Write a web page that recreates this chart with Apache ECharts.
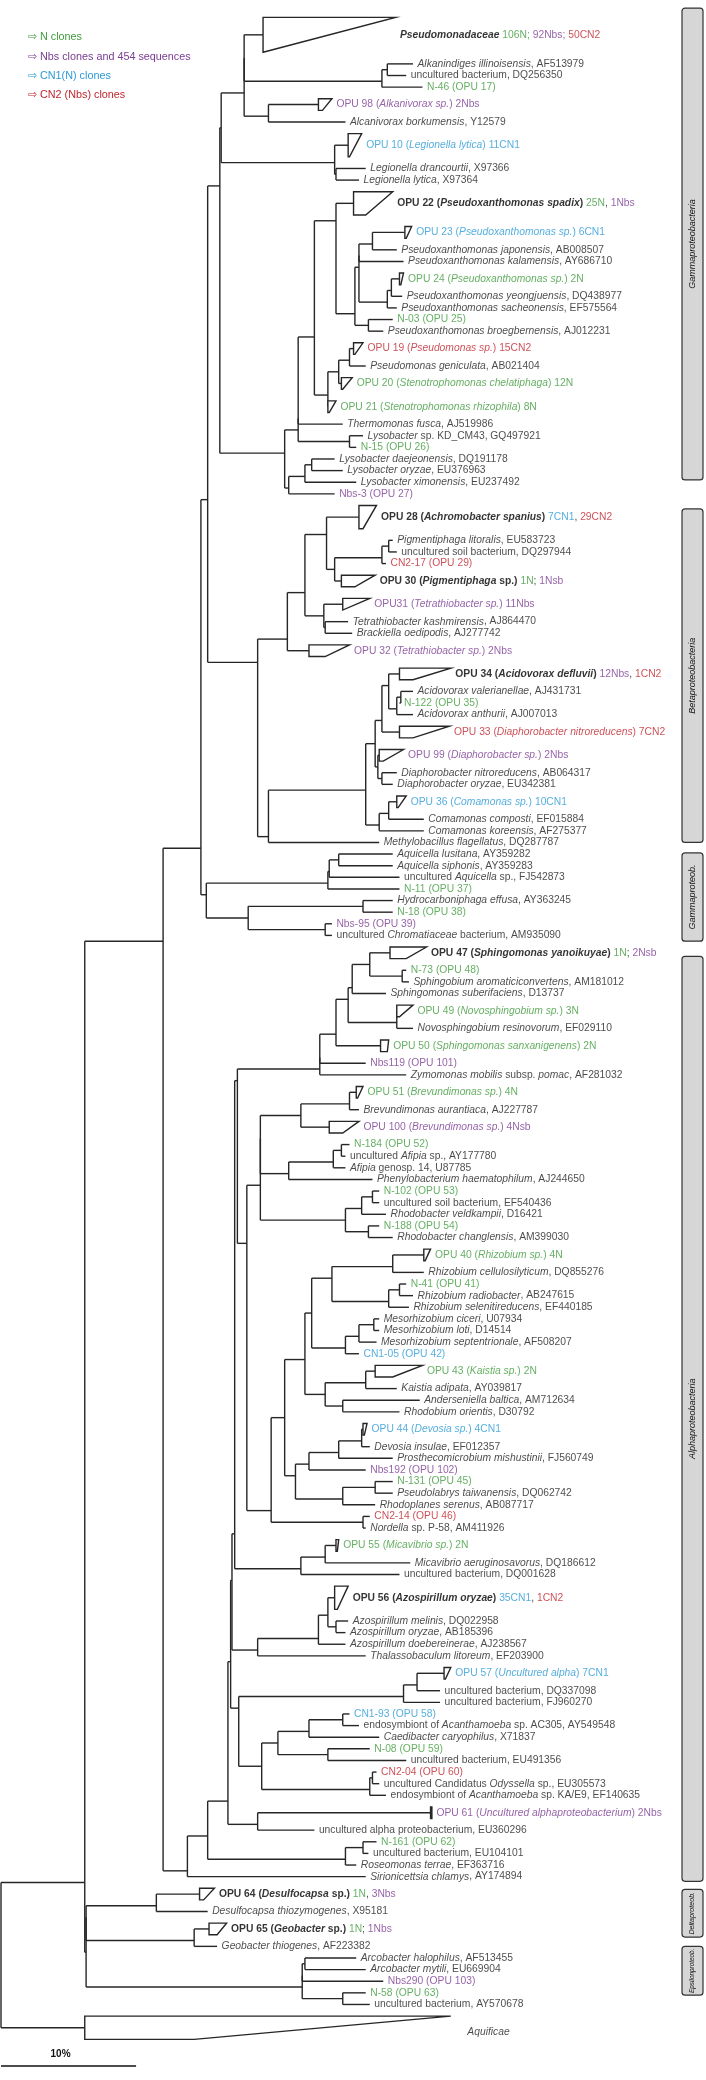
<!DOCTYPE html>
<html><head><meta charset="utf-8">
<script src="https://cdn.jsdelivr.net/npm/echarts@6/dist/echarts.min.js"></script>
<style>html,body{margin:0;padding:0;background:#fff}#c{width:706px;height:2080px}</style>
</head><body><div id="c"></div>
<script>
// ---------------- DATA ----------------
const leafLabels = [
'{bi|Pseudomonadaceae} {g|106N;} {p|92Nbs;} {r|50CN2}',
'{i|Alkanindiges illinoisensis}{n|, AF513979}',
'{n|uncultured bacterium, DQ256350}',
'{g|N-46 (OPU 17)}',
'{p|OPU 98 (}{pi|Alkanivorax sp.}{p|) 2Nbs}',
'{i|Alcanivorax borkumensis}{n|, Y12579}',
'{c|OPU 10 (}{ci|Legionella lytica}{c|) 11CN1}',
'{i|Legionella drancourtii}{n|, X97366}',
'{i|Legionella lytica}{n|, X97364}',
'{b|OPU 22 (}{bi|Pseudoxanthomonas spadix}{b|)} {g|25N}{n|,} {p|1Nbs}',
'{c|OPU 23 (}{ci|Pseudoxanthomonas sp.}{c|) 6CN1}',
'{i|Pseudoxanthomonas japonensis}{n|, AB008507}',
'{i|Pseudoxanthomonas kalamensis}{n|, AY686710}',
'{g|OPU 24 (}{gi|Pseudoxanthomonas sp.}{g|) 2N}',
'{i|Pseudoxanthomonas yeongjuensis}{n|, DQ438977}',
'{i|Pseudoxanthomonas sacheonensis}{n|, EF575564}',
'{g|N-03 (OPU 25)}',
'{i|Pseudoxanthomonas broegbernensis}{n|, AJ012231}',
'{r|OPU 19 (}{ri|Pseudomonas sp.}{r|) 15CN2}',
'{i|Pseudomonas geniculata}{n|, AB021404}',
'{g|OPU 20 (}{gi|Stenotrophomonas chelatiphaga}{g|) 12N}',
'{g|OPU 21 (}{gi|Stenotrophomonas rhizophila}{g|) 8N}',
'{i|Thermomonas fusca}{n|, AJ519986}',
'{i|Lysobacter}{n| sp. KD_CM43, GQ497921}',
'{g|N-15 (OPU 26)}',
'{i|Lysobacter daejeonensis}{n|, DQ191178}',
'{i|Lysobacter oryzae}{n|, EU376963}',
'{i|Lysobacter ximonensis}{n|, EU237492}',
'{p|Nbs-3 (OPU 27)}',
'{b|OPU 28 (}{bi|Achromobacter spanius}{b|)} {c|7CN1}{n|,} {r|29CN2}',
'{i|Pigmentiphaga litoralis}{n|, EU583723}',
'{n|uncultured soil bacterium, DQ297944}',
'{r|CN2-17 (OPU 29)}',
'{b|OPU 30 (}{bi|Pigmentiphaga}{b| sp.)} {g|1N}{n|;} {p|1Nsb}',
'{p|OPU31 (}{pi|Tetrathiobacter sp.}{p|) 11Nbs}',
'{i|Tetrathiobacter kashmirensis}{n|, AJ864470}',
'{i|Brackiella oedipodis}{n|, AJ277742}',
'{p|OPU 32 (}{pi|Tetrathiobacter sp.}{p|) 2Nbs}',
'{b|OPU 34 (}{bi|Acidovorax defluvii}{b|)} {p|12Nbs}{n|,} {r|1CN2}',
'{i|Acidovorax valerianellae}{n|, AJ431731}',
'{g|N-122 (OPU 35)}',
'{i|Acidovorax anthurii}{n|, AJ007013}',
'{r|OPU 33 (}{ri|Diaphorobacter nitroreducens}{r|) 7CN2}',
'{p|OPU 99 (}{pi|Diaphorobacter sp.}{p|) 2Nbs}',
'{i|Diaphorobacter nitroreducens}{n|, AB064317}',
'{i|Diaphorobacter oryzae}{n|, EU342381}',
'{c|OPU 36 (}{ci|Comamonas sp.}{c|) 10CN1}',
'{i|Comamonas composti}{n|, EF015884}',
'{i|Comamonas koreensis}{n|, AF275377}',
'{i|Methylobacillus flagellatus}{n|, DQ287787}',
'{i|Aquicella lusitana}{n|, AY359282}',
'{i|Aquicella siphonis}{n|, AY359283}',
'{n|uncultured }{i|Aquicella}{n| sp., FJ542873}',
'{g|N-11 (OPU 37)}',
'{i|Hydrocarboniphaga effusa}{n|, AY363245}',
'{g|N-18 (OPU 38)}',
'{p|Nbs-95 (OPU 39)}',
'{n|uncultured }{i|Chromatiaceae}{n| bacterium, AM935090}',
'{b|OPU 47 (}{bi|Sphingomonas yanoikuyae}{b|)} {g|1N}{n|;} {p|2Nsb}',
'{g|N-73 (OPU 48)}',
'{i|Sphingobium aromaticiconvertens}{n|, AM181012}',
'{i|Sphingomonas suberifaciens}{n|, D13737}',
'{g|OPU 49 (}{gi|Novosphingobium sp.}{g|) 3N}',
'{i|Novosphingobium resinovorum}{n|, EF029110}',
'{g|OPU 50 (}{gi|Sphingomonas sanxanigenens}{g|) 2N}',
'{p|Nbs119 (OPU 101)}',
'{i|Zymomonas mobilis}{n| subsp. }{i|pomac}{n|, AF281032}',
'{g|OPU 51 (}{gi|Brevundimonas sp.}{g|) 4N}',
'{i|Brevundimonas aurantiaca}{n|, AJ227787}',
'{p|OPU 100 (}{pi|Brevundimonas sp.}{p|) 4Nsb}',
'{g|N-184 (OPU 52)}',
'{n|uncultured }{i|Afipia}{n| sp., AY177780}',
'{i|Afipia}{n| genosp. 14, U87785}',
'{i|Phenylobacterium haematophilum}{n|, AJ244650}',
'{g|N-102 (OPU 53)}',
'{n|uncultured soil bacterium, EF540436}',
'{i|Rhodobacter veldkampii}{n|, D16421}',
'{g|N-188 (OPU 54)}',
'{i|Rhodobacter changlensis}{n|, AM399030}',
'{g|OPU 40 (}{gi|Rhizobium sp.}{g|) 4N}',
'{i|Rhizobium cellulosilyticum}{n|, DQ855276}',
'{g|N-41 (OPU 41)}',
'{i|Rhizobium radiobacter}{n|, AB247615}',
'{i|Rhizobium selenitireducens}{n|, EF440185}',
'{i|Mesorhizobium ciceri}{n|, U07934}',
'{i|Mesorhizobium loti}{n|, D14514}',
'{i|Mesorhizobium septentrionale}{n|, AF508207}',
'{c|CN1-05 (OPU 42)}',
'{g|OPU 43 (}{gi|Kaistia sp.}{g|) 2N}',
'{i|Kaistia adipata}{n|, AY039817}',
'{i|Anderseniella baltica}{n|, AM712634}',
'{i|Rhodobium orientis}{n|, D30792}',
'{c|OPU 44 (}{ci|Devosia sp.}{c|) 4CN1}',
'{i|Devosia insulae}{n|, EF012357}',
'{i|Prosthecomicrobium mishustinii}{n|, FJ560749}',
'{p|Nbs192 (OPU 102)}',
'{g|N-131 (OPU 45)}',
'{i|Pseudolabrys taiwanensis}{n|, DQ062742}',
'{i|Rhodoplanes serenus}{n|, AB087717}',
'{r|CN2-14 (OPU 46)}',
'{i|Nordella}{n| sp. P-58, AM411926}',
'{g|OPU 55 (}{gi|Micavibrio sp.}{g|) 2N}',
'{i|Micavibrio aeruginosavorus}{n|, DQ186612}',
'{n|uncultured bacterium, DQ001628}',
'{b|OPU 56 (}{bi|Azospirillum oryzae}{b|)} {c|35CN1}{n|,} {r|1CN2}',
'{i|Azospirillum melinis}{n|, DQ022958}',
'{i|Azospirillum oryzae}{n|, AB185396}',
'{i|Azospirillum doebereinerae}{n|, AJ238567}',
'{i|Thalassobaculum litoreum}{n|, EF203900}',
'{c|OPU 57 (}{ci|Uncultured alpha}{c|) 7CN1}',
'{n|uncultured bacterium, DQ337098}',
'{n|uncultured bacterium, FJ960270}',
'{c|CN1-93 (OPU 58)}',
'{n|endosymbiont of }{i|Acanthamoeba}{n| sp. AC305, AY549548}',
'{i|Caedibacter caryophilus}{n|, X71837}',
'{g|N-08 (OPU 59)}',
'{n|uncultured bacterium, EU491356}',
'{r|CN2-04 (OPU 60)}',
'{n|uncultured Candidatus }{i|Odyssella}{n| sp., EU305573}',
'{n|endosymbiont of }{i|Acanthamoeba}{n| sp. KA/E9, EF140635}',
'{p|OPU 61 (}{pi|Uncultured alphaproteobacterium}{p|) 2Nbs}',
'{n|uncultured alpha proteobacterium, EU360296}',
'{g|N-161 (OPU 62)}',
'{n|uncultured bacterium, EU104101}',
'{i|Roseomonas terrae}{n|, EF363716}',
'{i|Sirionicettsia chlamys}{n|, AY174894}',
'{b|OPU 64 (}{bi|Desulfocapsa}{b| sp.)} {g|1N}{n|,} {p|3Nbs}',
'{i|Desulfocapsa thiozymogenes}{n|, X95181}',
'{b|OPU 65 (}{bi|Geobacter}{b| sp.)} {g|1N}{n|;} {p|1Nbs}',
'{i|Geobacter thiogenes}{n|, AF223382}',
'{i|Arcobacter halophilus}{n|, AF513455}',
'{i|Arcobacter mytili}{n|, EU669904}',
'{p|Nbs290 (OPU 103)}',
'{g|N-58 (OPU 63)}',
'{n|uncultured bacterium, AY570678}',
'{i|Aquificae}'
];
// tip depth (% divergence from root) of each leaf / base depth of collapsed clades
const leafTip = [19.4,30.5,30.0,31.2,23.5,25.5,25.7,27.0,26.5,26.1,29.9,29.3,29.8,29.5,29.7,29.3,29.0,28.3,26.1,27.0,
25.2,24.2,25.3,26.8,26.3,24.7,25.3,26.3,24.7,26.5,29.0,29.3,28.5,25.2,25.3,25.7,26.0,22.8,29.5,30.5,
29.5,30.5,29.5,28.0,29.3,29.0,29.3,31.3,31.3,28.0,29.0,29.0,29.5,29.5,29.0,29.0,24.5,24.5,28.8,30.0,
30.2,28.5,29.3,30.5,28.1,27.0,30.0,26.3,26.5,24.3,25.8,25.5,25.5,27.5,28.0,28.0,28.5,28.0,29.0,31.3,
31.3,30.0,30.5,30.2,28.0,28.0,27.8,26.5,27.7,29.3,31.0,29.5,26.8,27.3,29.0,27.0,29.0,29.0,27.7,27.3,
27.0,24.8,30.3,29.5,24.7,25.7,25.5,25.5,27.0,32.8,32.5,32.5,25.8,26.5,28.0,27.3,30.0,27.8,28.0,28.5,
31.8,23.2,27.8,27.2,26.3,27.0,14.7,15.3,15.4,16.0,26.3,27.0,28.3,27.0,27.3,6.2];
// vertical slots (rows) taken by each leaf
const leafRows = [4,1,1,1,2,1,3,1,1,3,2,1,1,2,1,1,1,1,2,1,2,2,1,1,1,1,1,1,1,3,1,1,1,2,2,1,1,2,2,1,
1,1,2,2,1,1,2,1,1,1,1,1,1,1,1,1,1,1,2,1,1,1,2,1,2,1,1,2,1,2,1,1,1,1,1,1,1,1,1,2,
1,1,1,1,1,1,1,1,2,1,1,1,2,1,1,1,1,1,1,1,1,2,1,1,3,1,1,1,1,2,1,1,1,1,1,1,1,1,1,1,
2,1,1,1,1,1,2,1,2,1,1,1,1,1,1,3];
// collapsed clades: leaf index, deepest tip, shallowest tip
const cladeLeaf   = [0,4,6,9,10,13,18,20,21,29,33,34,37,38,42,43,46,58,62,64,67,69,79,88,92,101,104,109,120,126,128,135];
const cladeTop    = [29.2,24.5,26.7,29.0,30.4,29.8,26.8,26.0,24.8,27.8,27.7,27.3,25.8,33.3,33.2,29.8,30.0,31.5,30.5,28.7,26.8,26.5,31.8,31.2,27.1,25.0,25.7,33.3,31.9,15.8,16.7,33.3];
const cladeBottom = [19.4,23.8,25.8,27.0,30.0,29.6,26.2,25.3,24.3,26.8,26.2,25.3,24.0,30.5,30.5,28.3,29.4,30.0,29.5,28.6,26.4,25.3,31.4,29.0,26.9,24.9,24.9,32.9,31.9,15.0,16.0,14.3];
// topology (binary): [node depth, upper child, lower child]; numbers are leaf indices
const gammaTop = [16.2,
  [16.3, [18.0, [18.0, 0, [28.2, [28.6, 1, 2], 3]], [19.8, 4, 5]], [24.7, 6, [24.8, 7, 8]]],
  [21.0,
    [22.0, [22.0, [23.2, [24.8, 9, [26.2, [26.5, [26.5, [27.5, 10, 11], 12], [28.6, [28.9, 13, 14], 15]], [27.2, 16, 17]]],
                         [24.2, [25.0, [25.8, 18, 19], 20], 21]], 22], [25.8, 23, 24]],
    [21.3, [22.5, [23.0, 25, 26], 27], 28]]];
const beta = [19.0,
  [21.2, [22.5, [24.1, 29, [24.7, [28.2, [28.7, 30, 31], 32], 33]], [23.9, 34, [24.0, 35, 36]]], 37],
  [19.8, [27.0, [27.7, [28.2, [28.7, 38, [29.3, [29.6, 39, 40], 41]], 42], [27.9, 43, [28.2, 44, 45]]],
               [28.0, [28.7, 46, 47], 48]], 49]];
const gammaLow = [15.2, [24.2, [24.3, [25.0, 50, 51], 52], 53], [18.3, [26.8, 54, 55], [24.0, 56, 57]]];
const sphingo = [23.6, [23.6, [24.8, [25.7, [26.0, [27.3, 58, [29.7, 59, 60]], 61], [29.3, 62, 63]], 64], 65], 66];
const caulo = [19.2, [19.2, [22.2, [25.8, 67, 68], 69], [21.3, [24.6, [25.2, 70, 71], 72], 73]],
                     [25.5, [26.7, [27.5, 74, 75], 76], [27.2, 77, 78]]];
const rhizo = [20.0, [21.0, [22.5, [23.0, [24.5, [29.0, 79, 80], [28.7, [29.5, 81, 82], 83]], [25.5, [26.5, [27.6, 84, 85], 86], 87]],
                             [24.0, [27.0, 88, 89], [25.3, 90, 91]]],
                      [21.8, [22.8, [25.0, [26.7, 92, 93], 94], 95], [25.3, [27.7, 96, 97], 98]]],
               [26.8, 99, 100]];
const micav = [22.2, [24.0, 101, 102], 103];
const azosp = [19.0, [23.5, [24.2, 104, [24.8, 105, 106]], 107], 108];
const ricket = [17.6, [29.8, [30.8, 109, 110], 111],
                      [19.3, [20.5, [22.8, [25.3, 112, 113], 114], [24.2, 115, 116]], [27.3, [27.5, 117, 118], 119]]];
const alpha = [13.8,
  [15.3, [16.8, [17.0, [17.1, [17.3, [17.5, sphingo, [18.2, caulo, rhizo]], micav], azosp], ricket], [19.0, 120, 121]],
         [25.5, [26.8, 122, 123], 124]],
  125];
const deltaEpsilon = [6.3, [6.3, [11.5, 126, 127], [14.3, 128, 129]], [22.3, [22.3, [22.5, 130, 131], 132], [25.3, 133, 134]]];
const tree = [0, [6.2, [12.0, [14.8, [15.3, gammaTop, beta], gammaLow], alpha], deltaEpsilon], 135];
// side group boxes: name, first row, last row
const groupNames = ['Gammaproteobacteria','Betaproteobacteria','Gammaproteob.','Alphaproteobacteria','Deltaproteob.','Epsilonproteob.'];
const groupStart = [-0.3, 42.8, 72.4, 81.3, 161.6, 166.5];
const groupEnd   = [40.3, 71.5, 80.0, 160.9, 165.7, 170.7];
const legendItems = ['N clones','Nbs clones and 454 sequences','CN1(N) clones','CN2 (Nbs) clones'];
const scaleBar = [0, 10]; // percent
const scaleLabel = '10%';

// ---------------- LAYOUT ----------------
const G='#3f9b3c', P='#7a3b92', C='#2b9ad6', R='#c0262e', K='#1c1c1c';
const FONT='"Liberation Sans", Arial, Helvetica, sans-serif';
const FS=10.3;
function st(color, extra){ return Object.assign({color:color, fontSize:FS, fontFamily:FONT}, extra||{}); }
const RICH = {
  n:st(K), i:st(K,{fontStyle:'italic'}), b:st('#000',{fontWeight:'bold'}), bi:st('#000',{fontWeight:'bold',fontStyle:'italic'}),
  g:st(G), gi:st(G,{fontStyle:'italic'}), p:st(P), pi:st(P,{fontStyle:'italic'}),
  c:st(C), ci:st(C,{fontStyle:'italic'}), r:st(R), ri:st(R,{fontStyle:'italic'})
};
const leafY=[], leafR0=[]; let acc=0;
for (let i=0;i<leafRows.length;i++){ leafR0.push(acc); leafY.push(acc+leafRows[i]/2); acc+=leafRows[i]; }
const segs=[];
// each inner node is attached at the split between its upper and lower subtrees
function lay(node, px){
  if (typeof node==='number'){
    segs.push([px, leafY[node], leafTip[node], leafY[node]]);
    return {y:leafY[node], r0:leafR0[node], r1:leafR0[node]+leafRows[node]};
  }
  const x=node[0];
  const ch=node.slice(1).map(c=>lay(c,x));
  segs.push([x, ch[0].y, x, ch[ch.length-1].y]);
  const y=ch[0].r1;
  if (px!==null) segs.push([px, y, x, y]);
  return {y:y, r0:ch[0].r0, r1:ch[ch.length-1].r1};
}
lay(tree, null);
const cladeData = cladeLeaf.map((li,k)=>[leafTip[li], cladeTop[k], cladeBottom[k], leafY[li], leafRows[li]]);
const labelData = leafLabels.map((t,i)=>{
  const k=cladeLeaf.indexOf(i);
  return [k>=0? cladeTop[k] : leafTip[i], leafY[i], i];
});
const groupData = groupNames.map((n,i)=>[groupStart[i], groupEnd[i], i]);
const scaleRow = acc + 1.8;

function lineItem(params, api){
  const a=api.coord([api.value(0),api.value(1)]), b=api.coord([api.value(2),api.value(3)]);
  return {type:'line', shape:{x1:a[0],y1:a[1],x2:b[0],y2:b[1]}, style:{stroke:'#262626', lineWidth:1.4}};
}
const chart = echarts.init(document.getElementById('c'));
chart.setOption({
  animation:false,
  grid:{left:1, top:11.6, width:702.4, height:178*11.688},
  xAxis:{type:'value', min:0, max:52, show:false},
  yAxis:{type:'value', min:0, max:178, inverse:true, show:false},
  graphic: legendItems.map((t,i)=>({type:'text', left:28, top:32+i*19.3,
      style:{text:'\u21e8 '+t, fill:[G,P,C,R][i], font:'10.8px '+FONT}})),
  series:[
    {type:'custom', renderItem:lineItem, data:segs, clip:false, silent:true, encode:{x:[0,2],y:[1,3]}},
    {type:'custom', clip:false, silent:true, data:cladeData, encode:{x:[0,1,2],y:3},
     renderItem:(p,api)=>{
       const b=api.value(0), t=api.value(1), m=api.value(2), y=api.value(3), h=api.value(4);
       const y0=y-(h-1)/2, y1=y+(h-1)/2;
       const pts=[[b,y0],[t,y0],[m,y1],[b,y1]].map(c=>api.coord(c));
       return {type:'polygon', shape:{points:pts}, style:{fill:'#fff', stroke:'#262626', lineWidth:1.4}};
     }},
    {type:'scatter', data:labelData, symbolSize:1, itemStyle:{color:'rgba(0,0,0,0)'}, silent:true,
     label:{show:true, position:'right', distance:4, fontSize:FS, fontFamily:FONT, color:K, rich:RICH,
       formatter:(p)=>leafLabels[p.data[2]]},
     labelLayout:(p)=> p.dataIndex===135 ? {dx:12, dy:4} : {}},
    {type:'custom', clip:false, silent:true, data:groupData, encode:{y:[0,1]},
     renderItem:(p,api)=>{
       const y0=api.coord([0,api.value(0)])[1], y1=api.coord([0,api.value(1)])[1];
       const x0=682, w=21;
       const name=groupNames[api.value(2)];
       const fs=Math.min(9, (y1-y0-4)/(name.length*0.47));
       return {type:'group', children:[
         {type:'rect', shape:{x:x0,y:y0,width:w,height:y1-y0,r:3}, style:{fill:'#d6d6d6', stroke:'#333', lineWidth:1.2}},
         {type:'text', x:x0+w/2, y:(y0+y1)/2, rotation:Math.PI/2,
          style:{text:name, fill:'#111', font:'italic '+fs.toFixed(1)+'px '+FONT, align:'center', verticalAlign:'middle'}}
       ]};
     }},
    {type:'custom', clip:false, silent:true, data:[[scaleBar[0], scaleRow, scaleBar[1], scaleRow]], renderItem:(p,api)=>{
       const a=api.coord([api.value(0),api.value(1)]), b=api.coord([api.value(2),api.value(3)]);
       return {type:'group', children:[
         {type:'line', shape:{x1:a[0],y1:a[1],x2:b[0],y2:b[1]}, style:{stroke:'#111', lineWidth:1.4}},
         {type:'text', x:(a[0]+b[0])/2-8, y:a[1]-12, style:{text:scaleLabel, fill:'#111', font:'bold 10px '+FONT, align:'center', verticalAlign:'middle'}}
       ]};
     }}
  ]
});
</script></body></html>
